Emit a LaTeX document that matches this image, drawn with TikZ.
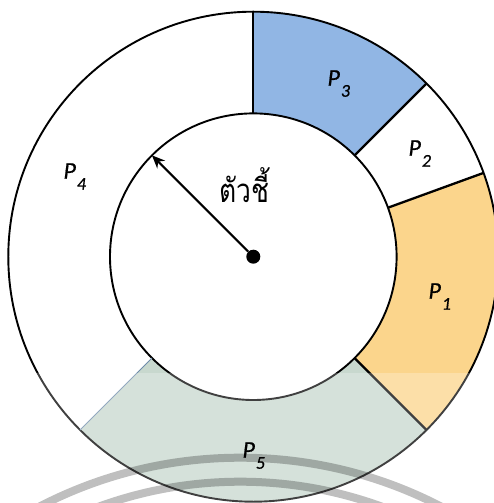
\documentclass[tikz,border=0pt]{standalone}
\usepackage{fontspec}
\newfontfamily\thaifont[Script=Thai]{Loma}
\newfontfamily\labfont[FakeBold=0.6]{Carlito}
\usetikzlibrary{arrows.meta}
\definecolor{pblue}{RGB}{145,182,228}
\definecolor{porange}{RGB}{251,213,140}
\definecolor{pgreen}{RGB}{200,216,206}
\definecolor{bline}{RGB}{110,140,170}
\newcommand{\plab}[1]{{\fontsize{24}{24}\selectfont\labfont\itshape P}\kern1pt\raisebox{-11pt}{\fontsize{18}{18}\selectfont\labfont\itshape #1}}
\begin{document}
\begin{tikzpicture}[x=1pt,y=1pt,
  seg/.style={line width=2.3pt},
  ring/.style={line width=1.9pt},
  lab/.style={anchor=base west,inner sep=0pt},
  ptr/.style={line width=2pt,-{Stealth[length=13pt,width=11pt]}}]
\useasboundingbox (-253.3,-246.3) rectangle (240.7,256.7);
\def\Ro{245}
\def\Ri{143.3}
% sectors
\fill[pblue] (45:\Ri) -- (45:\Ro) arc[start angle=45,end angle=90,radius=\Ro] -- (90:\Ri) arc[start angle=90,end angle=45,radius=\Ri] -- cycle;
\fill[porange] (-45:\Ri) -- (-45:\Ro) arc[start angle=-45,end angle=20,radius=\Ro] -- (20:\Ri) arc[start angle=20,end angle=-45,radius=\Ri] -- cycle;
\fill[pgreen] (225:\Ri) -- (225:\Ro) arc[start angle=225,end angle=315,radius=\Ro] -- (315:\Ri) arc[start angle=315,end angle=225,radius=\Ri] -- cycle;
% rings
\draw[ring] (0,0) circle (\Ro);
\draw[ring] (0,0) circle (\Ri);
% boundaries
\draw[seg] (90:\Ri) -- (90:\Ro);
\draw[seg] (45:\Ri) -- (45:\Ro);
\draw[seg] (20:\Ri) -- (20:\Ro);
\draw[seg] (-45:\Ri) -- (-45:\Ro);
\draw[bline,line width=0.9pt] (225:\Ri) -- (225:\Ro);
% pointer
\node[circle,fill=black,inner sep=0pt,minimum size=14pt] (ctr) at (0,0) {};
\coordinate (tip) at (135:\Ri);
\draw[ptr] (ctr) -- (tip);
\node[lab] (txt) at (-34,54) {\scalebox{0.8}[1]{\fontsize{33}{33}\selectfont\thaifont ตัวชี้}};
% fade band
\fill[white,opacity=0.25] (-253.3,-246.3) rectangle (240.7,-116.3);
% labels
\node[lab] (l1) at (175,-42) {\plab{1}};
\node[lab] (l2) at (155,101) {\plab{2}};
\node[lab] (l3) at (74,171) {\plab{3}};
\node[lab] (l4) at (-190,78) {\plab{4}};
\node[lab] (l5) at (-11,-201) {\plab{5}};
% watermark arcs
\begin{scope}
\clip (-253.3,-246.3) rectangle (240.7,256.7);
\draw[black,opacity=0.25,line width=8pt] (-13,-637) circle (436);
\draw[black,opacity=0.25,line width=8pt] (-13,-637) circle (412);
\end{scope}
\end{tikzpicture}
\end{document}
